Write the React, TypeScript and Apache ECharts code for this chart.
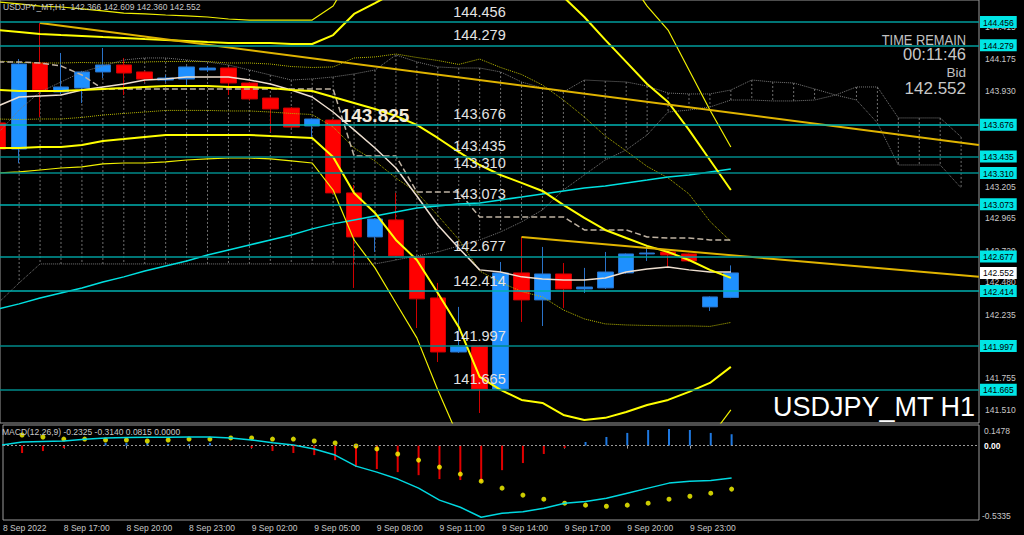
import React, { useEffect, useRef } from 'react';
import * as echarts from 'echarts';

// ---------- DATA ----------
// candles: [open, close, low, high], one per H1 bar (index 0 = 8 Sep 14:00)
const candles: number[][] = [
  [143.690, 143.492, 143.470, 143.700],
  [143.492, 144.137, 143.386, 144.175],
  [144.145, 143.940, 143.735, 144.448],
  [143.925, 143.963, 143.910, 144.221],
  [143.955, 144.077, 143.841, 144.085],
  [144.077, 144.130, 144.031, 144.259],
  [144.130, 144.069, 143.902, 144.183],
  [144.077, 144.023, 144.001, 144.085],
  [144.016, 144.031, 144.001, 144.054],
  [144.023, 144.115, 143.978, 144.122],
  [144.092, 144.107, 144.077, 144.122],
  [144.107, 143.993, 143.902, 144.115],
  [143.993, 143.872, 143.860, 144.001],
  [143.879, 143.796, 143.621, 143.885],
  [143.803, 143.659, 143.650, 143.810],
  [143.667, 143.720, 143.576, 143.725],
  [143.712, 143.159, 143.150, 143.720],
  [143.159, 142.825, 142.438, 143.219],
  [142.825, 142.961, 142.711, 142.965],
  [142.954, 142.681, 142.675, 143.159],
  [142.673, 142.355, 142.134, 142.680],
  [142.362, 141.952, 141.876, 142.476],
  [141.952, 141.998, 141.945, 142.294],
  [141.998, 141.671, 141.489, 142.005],
  [141.671, 142.552, 141.665, 142.635],
  [142.552, 142.347, 142.180, 142.825],
  [142.347, 142.544, 142.149, 142.749],
  [142.544, 142.430, 142.286, 142.627],
  [142.430, 142.445, 142.400, 142.590],
  [142.438, 142.559, 142.430, 142.711],
  [142.552, 142.696, 142.545, 142.700],
  [142.696, 142.703, 142.643, 142.764],
  [142.711, 142.688, 142.597, 142.720],
  [142.696, 142.643, 142.636, 142.700],
  [142.294, 142.370, 142.263, 142.375],
  [142.366, 142.552, 142.360, 142.609],
];

const bbMid = [143.940, 143.933, 143.933, 143.933, 143.940, 143.948, 143.955, 143.963, 143.971, 143.971, 143.971, 143.963, 143.963, 143.955, 143.940, 143.933, 143.887, 143.842, 143.796, 143.743, 143.675, 143.576, 143.470, 143.371, 143.295, 143.235, 143.174, 143.068, 142.969, 142.878, 142.817, 142.757, 142.711, 142.650, 142.575, 142.514];
const bbUp2 = [144.395, 144.380, 144.365, 144.357, 144.350, 144.342, 144.335, 144.327, 144.320, 144.312, 144.304, 144.297, 144.297, 144.297, 144.289, 144.289, 144.357, 144.517, 144.600, 144.684, 144.714, 144.760, 144.798, 144.964, 144.926, 144.881, 144.782, 144.646, 144.494, 144.320, 144.153, 143.986, 143.849, 143.637, 143.409, 143.181];
const bbLow2 = [143.500, 143.500, 143.508, 143.508, 143.523, 143.553, 143.568, 143.584, 143.599, 143.599, 143.599, 143.599, 143.599, 143.591, 143.584, 143.576, 143.432, 143.159, 143.007, 142.802, 142.650, 142.400, 142.142, 141.763, 141.664, 141.588, 141.565, 141.474, 141.436, 141.452, 141.497, 141.550, 141.588, 141.649, 141.717, 141.839];
const bbUp3 = [144.608, 144.593, 144.577, 144.570, 144.555, 144.540, 144.524, 144.517, 144.509, 144.502, 144.494, 144.479, 144.471, 144.471, 144.471, 144.471, 144.577, 144.851, 144.980, 145.154, 145.215, 145.336, 145.458, 145.784, 145.738, 145.700, 145.587, 145.458, 145.268, 145.033, 144.805, 144.577, 144.395, 144.092, 143.788, 143.508];
const bbLow3 = [143.310, 143.318, 143.333, 143.348, 143.356, 143.379, 143.386, 143.386, 143.394, 143.409, 143.417, 143.424, 143.424, 143.417, 143.402, 143.386, 143.181, 142.802, 142.590, 142.324, 142.059, 141.664, 141.300, 140.958, 140.852, 140.769, 140.761, 140.678, 140.670, 140.739, 140.837, 140.951, 141.027, 141.148, 141.300, 141.512];
const bbUp1 = [144.160, 144.149, 144.145, 144.145, 144.149, 144.145, 144.149, 144.153, 144.156, 144.156, 144.156, 144.145, 144.145, 144.137, 144.118, 144.111, 144.115, 144.183, 144.191, 144.213, 144.187, 144.164, 144.134, 144.175, 144.111, 144.058, 143.978, 143.864, 143.735, 143.591, 143.477, 143.360, 143.273, 143.151, 142.943, 142.791];
const bbLow1 = [143.720, 143.716, 143.720, 143.720, 143.732, 143.750, 143.762, 143.773, 143.785, 143.785, 143.785, 143.781, 143.781, 143.773, 143.762, 143.754, 143.659, 143.500, 143.401, 143.272, 143.163, 142.988, 142.806, 142.567, 142.480, 142.411, 142.370, 142.271, 142.203, 142.165, 142.157, 142.153, 142.150, 142.150, 142.146, 142.176];
const fastMA = [143.819, 143.887, 143.895, 143.902, 143.940, 143.963, 143.986, 144.016, 144.024, 144.039, 144.039, 144.039, 144.016, 143.986, 143.940, 143.887, 143.773, 143.637, 143.500, 143.348, 143.136, 142.916, 142.741, 142.575, 142.559, 142.522, 142.506, 142.499, 142.499, 142.514, 142.559, 142.582, 142.597, 142.575, 142.559, 142.559];
const slowMA = [142.279, 142.317, 142.362, 142.400, 142.438, 142.483, 142.522, 142.567, 142.605, 142.643, 142.688, 142.726, 142.764, 142.802, 142.840, 142.886, 142.924, 142.954, 142.984, 143.015, 143.045, 143.060, 143.075, 143.083, 143.106, 143.128, 143.151, 143.174, 143.197, 143.212, 143.235, 143.257, 143.280, 143.295, 143.318, 143.341];
const kijun = [144.153, 144.153, 144.145, 144.122, 144.054, 143.948, 143.948, 143.948, 143.948, 143.948, 143.948, 143.948, 143.948, 143.948, 143.948, 143.948, 143.948, 143.439, 143.439, 143.439, 143.166, 143.166, 143.166, 142.977, 142.977, 142.977, 142.977, 142.977, 142.878, 142.878, 142.878, 142.825, 142.817, 142.817, 142.802, 142.802];
const cloudA = [143.614, 143.788, 143.925, 144.001, 144.077, 144.122, 144.168, 144.183, 144.183, 144.168, 144.153, 144.130, 144.092, 144.054, 144.016, 144.024, 144.039, 144.062, 144.092, 144.206, 144.153, 144.115, 144.107, 144.107, 144.077, 144.001, 143.955, 143.925, 144.016, 144.008, 144.001, 143.970, 143.917, 143.910, 143.910, 143.940, 144.016, 144.001, 143.993, 143.948, 143.902, 143.963, 143.963, 143.728, 143.728, 143.728, 143.584];
const cloudB = [142.324, 142.476, 142.620, 142.620, 142.620, 142.620, 142.620, 142.620, 142.620, 142.620, 142.620, 142.620, 142.620, 142.620, 142.620, 142.620, 142.620, 142.620, 142.620, 142.650, 142.681, 142.711, 142.757, 142.802, 142.863, 142.939, 143.030, 143.181, 143.295, 143.409, 143.485, 143.599, 143.773, 143.788, 143.811, 143.864, 143.864, 143.857, 143.857, 143.864, 143.902, 143.864, 143.690, 143.371, 143.371, 143.371, 143.197];
// trend lines: [startIndex, startPrice, endIndex, endPrice]
const trendLines = [
  [2, 144.448, 46.85, 143.523],
  [25, 142.825, 46.85, 142.522],
];

const levels = [144.456, 144.279, 143.676, 143.435, 143.310, 143.073, 142.677, 142.414, 141.997, 141.665];
const priceTicks = [144.415, 144.175, 143.930, 143.205, 142.965, 142.720, 142.480, 142.235, 141.755, 141.510];
const bidPrice = 142.552;

const macdMain = [0.004, 0.026, 0.030, 0.033, 0.045, 0.055, 0.058, 0.060, 0.060, 0.061, 0.062, 0.055, 0.040, 0.020, 0.004, -0.024, -0.068, -0.147, -0.190, -0.240, -0.305, -0.391, -0.442, -0.514, -0.485, -0.475, -0.449, -0.413, -0.400, -0.377, -0.341, -0.305, -0.269, -0.255, -0.250, -0.233];
// signal and histogram start at bar index 1
const macdSignal = [0.076, 0.062, 0.047, 0.047, 0.040, 0.040, 0.033, 0.040, 0.047, 0.047, 0.055, 0.055, 0.047, 0.047, 0.033, 0.019, -0.003, -0.024, -0.060, -0.104, -0.154, -0.204, -0.255, -0.305, -0.355, -0.384, -0.413, -0.427, -0.435, -0.427, -0.413, -0.384, -0.363, -0.341, -0.312];
const macdHist = [-0.053, -0.039, -0.017, -0.003, 0.019, 0.019, 0.019, 0.012, 0.012, 0.019, -0.003, -0.017, -0.039, -0.053, -0.068, -0.104, -0.154, -0.168, -0.190, -0.212, -0.240, -0.247, -0.262, -0.176, -0.125, -0.060, -0.017, 0.026, 0.062, 0.091, 0.112, 0.119, 0.112, 0.091, 0.0815];
const macdTicks = [0.1478, 0, -0.5335];

const timeTickIdx = [0, 3, 6, 9, 12, 15, 18, 21, 24, 27, 30, 33];
const timeLabels = ['8 Sep 2022', '8 Sep 17:00', '8 Sep 20:00', '8 Sep 23:00', '9 Sep 02:00', '9 Sep 05:00', '9 Sep 08:00', '9 Sep 11:00', '9 Sep 14:00', '9 Sep 17:00', '9 Sep 20:00', '9 Sep 23:00'];

const headerText = 'USDJPY_MT,H1  142.366 142.609 142.360 142.552';
const macdHeader = 'MACD(12,26,9) -0.2325 -0.3140 0.0815 0.0000';

// ---------- STYLE / LAYOUT ----------
const FONT = "'Liberation Sans', Arial, sans-serif";
const X_MIN = 0.086;
const X_MAX = 46.854;
const levelColors = ['#009c9c', '#009c9c', '#00b4b4', '#008a8a', '#008a8a', '#00b0b0', '#009c9c', '#00b0b0', '#008a8a', '#008a8a'];

const mkLine = (vals: number[], color: string, width: number, type: any = 'solid', start = 0) => ({
  type: 'line',
  xAxisIndex: 0,
  yAxisIndex: 0,
  data: vals.map((v, i) => [i + start, v]),
  showSymbol: false,
  symbol: 'none',
  silent: true,
  lineStyle: { color, width, type },
});

export default function App() {
  const ref = useRef<HTMLDivElement>(null);

  useEffect(() => {
    if (!ref.current) return;
    const chart = echarts.init(ref.current, undefined, { renderer: 'svg' });

    const series: any[] = [];

    // Ichimoku cloud hatch
    series.push({
      type: 'custom',
      xAxisIndex: 0,
      yAxisIndex: 0,
      silent: true,
      data: cloudA.map((a, i) => [i, a, cloudB[i]]),
      encode: { x: 0, y: [1, 2] },
      renderItem: (params: any, api: any) => {
        const p1 = api.coord([api.value(0), api.value(1)]);
        const p2 = api.coord([api.value(0), api.value(2)]);
        return {
          type: 'line',
          shape: { x1: p1[0], y1: p1[1], x2: p2[0], y2: p2[1] },
          style: { stroke: '#707070', lineWidth: 1, lineDash: [2, 2] },
        };
      },
    });
    series.push(mkLine(cloudA, '#7a7a7a', 1, 'dotted'));
    series.push(mkLine(cloudB, '#7a7a7a', 1, 'dotted'));

    // Candles
    series.push({
      type: 'candlestick',
      xAxisIndex: 0,
      yAxisIndex: 0,
      clip: false,
      silent: true,
      barWidth: 16,
      data: candles.map((c, i) => [i, c[0], c[1], c[2], c[3]]),
      itemStyle: {
        color: '#1e90ff',
        color0: '#ff0000',
        borderColor: '#2a72c8',
        borderColor0: '#d00000',
        borderWidth: 1,
      },
    });

    // Indicator lines
    series.push(mkLine(bbUp1, '#b8b800', 1, 'dotted'));
    series.push(mkLine(bbLow1, '#b8b800', 1, 'dotted'));
    series.push(mkLine(kijun, '#bfb2a2', 1.5, 'dashed'));
    series.push(mkLine(slowMA, '#00e0e0', 1.5));
    series.push(mkLine(fastMA, '#eedfd0', 1.5));
    series.push(mkLine(bbUp3, '#f0f000', 1.2));
    series.push(mkLine(bbLow3, '#f0f000', 1.2));
    series.push(mkLine(bbUp2, '#ffff00', 2));
    series.push(mkLine(bbLow2, '#ffff00', 2));
    series.push(mkLine(bbMid, '#ffff00', 2));
    trendLines.forEach((t) => {
      series.push({
        type: 'line',
        xAxisIndex: 0,
        yAxisIndex: 0,
        silent: true,
        showSymbol: false,
        symbol: 'none',
        data: [[t[0], t[1]], [t[2], t[3]]],
        lineStyle: { color: '#e0b400', width: 2 },
      });
    });

    // Horizontal levels (markLine on a carrier series)
    series.push({
      type: 'line',
      xAxisIndex: 0,
      yAxisIndex: 0,
      silent: true,
      showSymbol: false,
      data: [],
      markLine: {
        silent: true,
        symbol: ['none', 'none'],
        precision: 3,
        data: levels.map((v, i) => ({
          yAxis: v,
          lineStyle: { color: levelColors[i], width: 1.5, type: 'solid' },
        })),
        label: {
          show: true,
          position: 'insideMiddleTop',
          distance: 3,
          offset: [-10, 0],
          color: '#e4e4e4',
          fontSize: 14.5,
          fontFamily: FONT,
          formatter: (p: any) => Number(p.value).toFixed(3),
        },
      },
    });

    // MACD
    series.push({
      type: 'bar',
      xAxisIndex: 1,
      yAxisIndex: 1,
      silent: true,
      barWidth: 2,
      data: macdHist.map((v, i) => ({
        value: [i + 1, v],
        itemStyle: { color: v < 0 ? '#e00000' : '#1e78e0' },
      })),
      markLine: {
        silent: true,
        symbol: ['none', 'none'],
        data: [{ yAxis: 0 }],
        label: { show: false },
        lineStyle: { color: '#9a9a9a', width: 1, type: [2, 2] },
      },
    });
    series.push({
      type: 'line',
      xAxisIndex: 1,
      yAxisIndex: 1,
      silent: true,
      showSymbol: false,
      symbol: 'none',
      data: macdMain.map((v, i) => [i, v]),
      lineStyle: { color: '#00d8e0', width: 1.5 },
    });
    series.push({
      type: 'scatter',
      xAxisIndex: 1,
      yAxisIndex: 1,
      silent: true,
      symbolSize: 5,
      data: macdSignal.map((v, i) => [i + 1, v]),
      itemStyle: { color: '#ffff00' },
    });

    const priceLabels = [...priceTicks, ...levels, bidPrice];
    // the first time label belongs to the partially visible first bar; keep it inside the axis range
    const timeLabelPos = timeTickIdx.map((v) => Math.max(v, X_MIN));
    const timeLabelFor = (v: number) => {
      let best = 0;
      timeLabelPos.forEach((p, i) => {
        if (Math.abs(p - v) < Math.abs(timeLabelPos[best] - v)) best = i;
      });
      return timeLabels[best];
    };

    const option: any = {
      animation: false,
      backgroundColor: '#000000',
      textStyle: { fontFamily: FONT },
      grid: [
        { left: 0, top: 0, width: 979, height: 423, show: true, borderColor: '#9a9a9a', borderWidth: 1, backgroundColor: 'transparent' },
        { left: 0, top: 425, width: 979, height: 95, show: true, borderColor: '#9a9a9a', borderWidth: 1, backgroundColor: 'transparent' },
      ],
      xAxis: [
        { gridIndex: 0, type: 'value', min: X_MIN, max: X_MAX, show: false },
        {
          gridIndex: 1,
          type: 'value',
          min: X_MIN,
          max: X_MAX,
          axisLine: { show: false },
          splitLine: { show: false },
          axisTick: { show: true, customValues: timeLabelPos.slice(1), length: 3, lineStyle: { color: '#a0a0a0' } },
          axisLabel: {
            customValues: timeLabelPos,
            showMinLabel: true,
            formatter: (v: number) => timeLabelFor(v),
            align: 'left',
            color: '#c8c8c8',
            fontSize: 8.5,
            margin: 3,
          },
        },
      ],
      yAxis: [
        {
          gridIndex: 0,
          type: 'value',
          position: 'right',
          min: 141.413,
          max: 144.623,
          splitLine: { show: false },
          axisLine: { show: false },
          axisTick: { show: false },
          axisLabel: {
            customValues: priceLabels,
            margin: 1,
            formatter: (v: number) => {
              const s = v.toFixed(3);
              if (v === bidPrice) return `{bid|${s}}`;
              if (levels.includes(v)) return `{lv|${s}}`;
              return `{tk|${s}}`;
            },
            rich: {
              tk: { color: '#c8c8c8', fontSize: 8.5, padding: [0, 0, 0, 5] },
              lv: { color: '#000', backgroundColor: '#00e6e6', fontSize: 8.5, padding: [2, 3, 1, 3] },
              bid: { color: '#000', backgroundColor: '#ffffff', fontSize: 8.5, padding: [2, 3, 1, 3] },
            },
          },
        },
        {
          gridIndex: 1,
          type: 'value',
          position: 'right',
          min: -0.5335,
          max: 0.1478,
          splitLine: { show: false },
          axisLine: { show: false },
          axisTick: { show: false },
          axisLabel: {
            customValues: macdTicks,
            margin: 1,
            formatter: (v: number) => {
              if (v === 0) return '{z|0.00}';
              if (v > 0) return `{t|${v.toFixed(4)}}`;
              return `{b|${v.toFixed(4)}}`;
            },
            rich: {
              t: { color: '#c8c8c8', fontSize: 8.5, padding: [12, 0, 0, 4] },
              z: { color: '#ffffff', fontSize: 8.5, fontWeight: 'bold', padding: [0, 0, 0, 4] },
              b: { color: '#c8c8c8', fontSize: 8.5, padding: [0, 0, 8, 2] },
            },
          },
        },
      ],
      graphic: [
        { type: 'text', x: 3, y: 7, z: 100, style: { text: headerText, fill: '#c8c8c8', fontSize: 8.5, fontFamily: FONT, textVerticalAlign: 'middle' } },
        { type: 'text', x: 2, y: 432, z: 100, style: { text: macdHeader, fill: '#c8c8c8', fontSize: 8.5, fontFamily: FONT, textVerticalAlign: 'middle' } },
        { type: 'text', x: 966, y: 40, scaleX: 0.83, z: 100, style: { text: 'TIME REMAIN', fill: '#c0c0c0', fontSize: 15.5, fontFamily: FONT, textAlign: 'right', textVerticalAlign: 'middle' } },
        { type: 'text', x: 966, y: 54, z: 100, style: { text: '00:11:46', fill: '#c8c8c8', fontSize: 16.5, fontFamily: FONT, textAlign: 'right', textVerticalAlign: 'middle' } },
        { type: 'text', x: 966, y: 72, z: 100, style: { text: 'Bid', fill: '#c0c0c0', fontSize: 13.5, fontFamily: FONT, textAlign: 'right', textVerticalAlign: 'middle' } },
        { type: 'text', x: 966, y: 88, z: 100, style: { text: '142.552', fill: '#c8c8c8', fontSize: 17, fontFamily: FONT, textAlign: 'right', textVerticalAlign: 'middle' } },
        { type: 'text', x: 975, y: 407, z: 100, style: { text: 'USDJPY_MT H1', fill: '#ffffff', fontSize: 27, fontFamily: FONT, textAlign: 'right', textVerticalAlign: 'middle' } },
        { type: 'text', x: 375, y: 115, z: 100, style: { text: '143.825', fill: '#f2eadb', fontSize: 19, fontWeight: 'bold', fontFamily: FONT, textAlign: 'center', textVerticalAlign: 'middle' } },
      ],
      series,
    };

    chart.setOption(option);
    return () => chart.dispose();
  }, []);

  return (
    <div
      ref={ref}
      style={{ position: 'fixed', left: 0, top: 0, width: 1024, height: 535, background: '#000' }}
    />
  );
}
